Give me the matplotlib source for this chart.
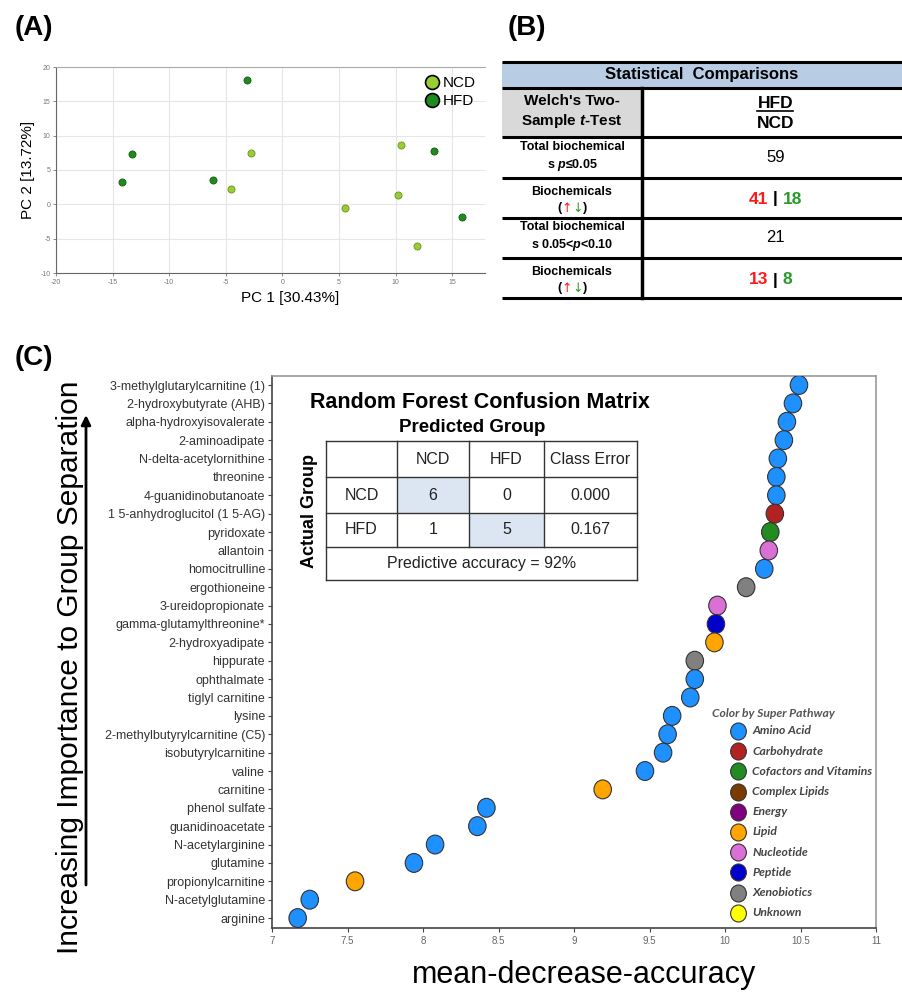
import matplotlib.pyplot as plt
import numpy as np
from matplotlib.lines import Line2D
from matplotlib.patches import Rectangle, FancyArrowPatch
from matplotlib.path import Path
from matplotlib.transforms import Affine2D

plt.rcParams['font.family'] = ['Liberation Sans', 'DejaVu Sans']
plt.rcParams['axes.unicode_minus'] = False
plt.rcParams['mathtext.fontset'] = 'custom'
plt.rcParams['mathtext.rm'] = 'Liberation Sans:bold'
plt.rcParams['mathtext.it'] = 'Liberation Sans:italic:bold'

# --- PCA scores (A)
ncd_pc1 = [-2.8, -4.5, 5.5, 10.5, 10.2, 11.9]
ncd_pc2 = [7.5, 2.2, -0.6, 8.7, 1.3, -6.1]
hfd_pc1 = [-3.1, -13.3, -14.2, -6.1, 13.4, 15.9]
hfd_pc2 = [18.1, 7.3, 3.3, 3.5, 7.7, -1.8]

# --- Welch's t-test counts (B)
total_p05 = 59
up_p05, down_p05 = 41, 18
total_p10 = 21
up_p10, down_p10 = 13, 8

# --- random forest (C)
cm_groups = ['NCD', 'HFD']
cm_counts = [[6, 0], [1, 5]]
class_error = [0.000, 0.167]
accuracy = 92

metabolites = [
    '3-methylglutarylcarnitine (1)', '2-hydroxybutyrate (AHB)',
    'alpha-hydroxyisovalerate', '2-aminoadipate', 'N-delta-acetylornithine',
    'threonine', '4-guanidinobutanoate', '1 5-anhydroglucitol (1 5-AG)',
    'pyridoxate', 'allantoin', 'homocitrulline', 'ergothioneine',
    '3-ureidopropionate', 'gamma-glutamylthreonine*', '2-hydroxyadipate',
    'hippurate', 'ophthalmate', 'tiglyl carnitine', 'lysine',
    '2-methylbutyrylcarnitine (C5)', 'isobutyrylcarnitine', 'valine',
    'carnitine', 'phenol sulfate', 'guanidinoacetate', 'N-acetylarginine',
    'glutamine', 'propionylcarnitine', 'N-acetylglutamine', 'arginine',
]
mda = [10.49, 10.45, 10.41, 10.39, 10.35, 10.34, 10.34, 10.33, 10.30, 10.29,
       10.26, 10.14, 9.95, 9.94, 9.93, 9.80, 9.80, 9.77, 9.65, 9.62,
       9.59, 9.47, 9.19, 8.42, 8.36, 8.08, 7.94, 7.55, 7.25, 7.17]
pathway = ['Amino Acid'] * 7 + ['Carbohydrate', 'Cofactors and Vitamins',
           'Nucleotide', 'Amino Acid', 'Xenobiotics', 'Nucleotide', 'Peptide',
           'Lipid', 'Xenobiotics'] + ['Amino Acid'] * 6 + ['Lipid'] + \
          ['Amino Acid'] * 4 + ['Lipid', 'Amino Acid', 'Amino Acid']

pathway_names = ['Amino Acid', 'Carbohydrate', 'Cofactors and Vitamins',
                 'Complex Lipids', 'Energy', 'Lipid', 'Nucleotide', 'Peptide',
                 'Xenobiotics', 'Unknown']
pathway_colors = ['#1e90ff', '#b22222', '#228b22', '#7a3b00', '#800080',
                  '#ffa500', '#da70d6', '#0000cd', '#808080', '#ffff00']
color_of = dict(zip(pathway_names, pathway_colors))

W, H = 903, 992
fig = plt.figure(figsize=(W / 100, H / 100), dpi=100)


def box(l, t, r, b):
    # pixel rectangle -> figure fraction
    return [l / W, 1 - b / H, (r - l) / W, (b - t) / H]


def fxy(x, y):
    return x / W, 1 - y / H


# ================= (A) PCA
ax_a = fig.add_axes(box(56, 67, 485, 273))
ax_a.scatter(ncd_pc1, ncd_pc2, s=26, color='#9acd32', edgecolor='#6b8e23',
             lw=0.6, zorder=3)
ax_a.scatter(hfd_pc1, hfd_pc2, s=26, color='#1f8a1f', edgecolor='#145a14',
             lw=0.6, zorder=3)
ax_a.set_xlim(-20, 17.9)
ax_a.set_ylim(-10, 20)
ax_a.set_xticks(np.arange(-20, 16, 5))
ax_a.set_yticks(np.arange(-10, 21, 5))
ax_a.grid(color='#e6e6e6', lw=0.8)
ax_a.set_axisbelow(True)
ax_a.tick_params(labelsize=5, colors='#777', length=2, width=0.6, pad=2)
ax_a.spines['right'].set_visible(False)
ax_a.spines['top'].set_color('#aaaaaa')
for s in ['left', 'bottom']:
    ax_a.spines[s].set_color('#666666')
handles = [Line2D([], [], ls='', marker='o', ms=10, mfc=c, mec='black', mew=1.2)
           for c in ['#9acd32', '#1f8a1f']]
ax_a.legend(handles, ['NCD', 'HFD'], loc='upper right', frameon=False,
            fontsize=11, handletextpad=0.1, labelspacing=0.25,
            borderaxespad=0.2, handlelength=1.2)
ax_a.set_xlabel('PC 1 [30.43%]', fontsize=11)
ax_a.xaxis.set_label_coords(0.545, -0.085)
ax_a.set_ylabel('PC 2 [13.72%]', fontsize=11)
ax_a.yaxis.set_label_coords(-0.05, 0.5)

# ================= (B) comparison table
ax_b = fig.add_axes(box(502, 62, 903, 298))
ax_b.set_xlim(0, 401)
ax_b.set_ylim(236, 0)
ax_b.axis('off')
rows_b = [0, 26, 75, 116, 156, 196, 236]
split = 140
ax_b.add_patch(Rectangle((0, 0), 401, 26, color='#b8cce4', lw=0))
ax_b.add_patch(Rectangle((0, 26), split, 49, color='#d9d9d9', lw=0))
for y in rows_b:
    ax_b.plot([0, 401], [y, y], color='black', lw=2.2, clip_on=False,
              solid_capstyle='butt')
ax_b.plot([split, split], [26, 236], color='black', lw=2.5, clip_on=False)

cx_l, cx_r = split / 2, (split + 401) / 2 + 3
ax_b.text(200, 13, 'Statistical  Comparisons', fontsize=12, weight='bold',
          ha='center', va='center')
ax_b.text(cx_l, 50, "Welch's Two-\nSample $t$-Test", fontsize=11,
          weight='bold', ha='center', va='center', linespacing=1.3)
ax_b.text(cx_r, 41, 'HFD', fontsize=12.5, weight='bold', ha='center',
          va='center')
ax_b.plot([cx_r - 18, cx_r + 18], [49, 49], color='black', lw=1.2)
ax_b.text(cx_r, 62, 'NCD', fontsize=12.5, weight='bold', ha='center',
          va='center')

red, green = '#ff1a1a', '#2a9a2a'


def arrows(y):
    up = ax_b.text(cx_l, y, '↑', color=red, fontsize=9, family='DejaVu Sans',
                   ha='right', va='center')
    dn = ax_b.text(cx_l, y, '↓', color=green, fontsize=9, family='DejaVu Sans',
                   ha='left', va='center')
    ax_b.annotate('(', xy=(0, 0.5), xycoords=up, fontsize=9, weight='bold',
                  ha='right', va='center')
    ax_b.annotate(')', xy=(1, 0.5), xycoords=dn, fontsize=9, weight='bold',
                  ha='left', va='center')


def up_down(y, n_up, n_down):
    bar = ax_b.text(cx_r, y, ' | ', fontsize=12.5, weight='bold',
                    ha='center', va='center')
    ax_b.annotate(str(n_up), xy=(0, 0.5), xycoords=bar, color=red,
                  fontsize=12.5, weight='bold', ha='right', va='center')
    ax_b.annotate(str(n_down), xy=(1, 0.5), xycoords=bar, color=green,
                  fontsize=12.5, weight='bold', ha='left', va='center')


ax_b.text(cx_l, 95, 'Total biochemical\ns $p$≤0.05', fontsize=9,
          weight='bold', ha='center', va='center', linespacing=1.3)
ax_b.text(cx_r, 96, str(total_p05), fontsize=12, ha='center', va='center')
ax_b.text(cx_l, 130, 'Biochemicals', fontsize=9, weight='bold',
          ha='center', va='center')
arrows(146)
up_down(137, up_p05, down_p05)
ax_b.text(cx_l, 175, 'Total biochemical\ns 0.05<$p$<0.10', fontsize=9,
          weight='bold', ha='center', va='center', linespacing=1.3)
ax_b.text(cx_r, 176, str(total_p10), fontsize=12, ha='center', va='center')
ax_b.text(cx_l, 210, 'Biochemicals', fontsize=9, weight='bold',
          ha='center', va='center')
arrows(226)
up_down(218, up_p10, down_p10)

# ================= (C) random forest importance
ax_c = fig.add_axes(box(272, 376, 876, 928))
oval = Path.unit_circle().transformed(Affine2D().scale(1, 1.08))
pos = np.arange(len(metabolites))[::-1]
ax_c.scatter(mda, pos, s=185, marker=oval,
             c=[color_of[p] for p in pathway], edgecolor='#333333', lw=0.8,
             zorder=3)
ax_c.set_xlim(7, 11)
ax_c.set_ylim(-0.54, len(metabolites) - 0.51)
ticks = np.arange(7, 11.01, 0.5)
ax_c.set_xticks(ticks)
ax_c.set_xticklabels([f'{t:g}' for t in ticks])
ax_c.set_yticks(pos)
ax_c.set_yticklabels(metabolites)
ax_c.tick_params(axis='y', labelsize=9, labelcolor='#333333', length=3,
                 width=0.8, pad=2, color='#444444')
ax_c.tick_params(axis='x', labelsize=7, labelcolor='#666666', length=3,
                 width=0.8, pad=3, color='#444444')
for s in ['left', 'bottom']:
    ax_c.spines[s].set_color('#444444')
    ax_c.spines[s].set_linewidth(1.2)
for s in ['top', 'right']:
    ax_c.spines[s].set_color('#999999')
    ax_c.spines[s].set_linewidth(1.2)
ax_c.set_xlabel('mean-decrease-accuracy', fontsize=22)
ax_c.xaxis.set_label_coords(0.517, -0.058)

# pathway key
ax_c.text(0.7285, 0.3877, 'Color by Super Pathway', transform=ax_c.transAxes,
          family='Lato', style='italic', weight='bold', fontsize=8.7,
          color='#555555', va='center', ha='left')
for i, (name, col) in enumerate(zip(pathway_names, pathway_colors)):
    yk = 0.357 - i * 0.0366
    ax_c.scatter([0.7715], [yk], s=150, marker=oval, color=col,
                 edgecolor='#333333', lw=0.8, transform=ax_c.transAxes,
                 zorder=4)
    ax_c.text(0.795, yk, name, transform=ax_c.transAxes, family='Lato',
              style='italic', weight='bold', fontsize=8.7, color='#444444',
              va='center', ha='left')

# confusion matrix inset
ax_m = fig.add_axes(box(326, 441, 637, 580))
ax_m.set_xlim(0, 311)
ax_m.set_ylim(139, 0)
ax_m.axis('off')
cols_m = [0, 71, 143, 218, 311]
rows_m = [0, 36, 72, 106, 139]
ax_m.add_patch(Rectangle((0, 0), 311, 139, color='white', lw=0))
for i in range(2):
    ax_m.add_patch(Rectangle((cols_m[i + 1], rows_m[i + 1]),
                             cols_m[i + 2] - cols_m[i + 1],
                             rows_m[i + 2] - rows_m[i + 1],
                             color='#dce6f2', lw=0))
for y in rows_m:
    ax_m.plot([0, 311], [y, y], color='#333333', lw=1, clip_on=False)
for x in cols_m:
    top = 139 if x in (0, 311) else 106
    ax_m.plot([x, x], [0, top], color='#333333', lw=1, clip_on=False)


def cell(ci, ri, s):
    ax_m.text((cols_m[ci] + cols_m[ci + 1]) / 2,
              (rows_m[ri] + rows_m[ri + 1]) / 2, s, fontsize=11.5,
              ha='center', va='center', color='#222222')


for ci, s in enumerate(['NCD', 'HFD', 'Class Error']):
    cell(ci + 1, 0, s)
for ri, g in enumerate(cm_groups):
    cell(0, ri + 1, g)
    for ci in range(2):
        cell(ci + 1, ri + 1, str(cm_counts[ri][ci]))
    cell(3, ri + 1, f'{class_error[ri]:.3f}')
ax_m.text(155.5, (rows_m[3] + rows_m[4]) / 2,
          f'Predictive accuracy = {accuracy}%', fontsize=11.5,
          ha='center', va='center', color='#222222')

fig.text(*fxy(480, 402), 'Random Forest Confusion Matrix', fontsize=15.5,
         weight='bold', ha='center', va='center')
fig.text(*fxy(472, 427), 'Predicted Group', fontsize=13.5, weight='bold',
         ha='center', va='center')
fig.text(*fxy(310, 511), 'Actual Group', fontsize=13, weight='bold',
         rotation=90, ha='center', va='center')

# vertical axis title with arrow
fig.text(*fxy(70, 667), 'Increasing Importance to Group Separation',
         fontsize=21.5, rotation=90, ha='center', va='center')
fig.add_artist(FancyArrowPatch(fxy(86, 885), fxy(86, 415),
                               transform=fig.transFigure, arrowstyle='-|>',
                               mutation_scale=14, lw=2, color='black',
                               shrinkA=0, shrinkB=0))

# panel letters
for lab, x, y in [('(A)', 15, 28), ('(B)', 508, 28), ('(C)', 15, 358)]:
    fig.text(*fxy(x, y), lab, fontsize=20, weight='bold', ha='left',
             va='center')

fig.savefig('out.png', dpi=100)
